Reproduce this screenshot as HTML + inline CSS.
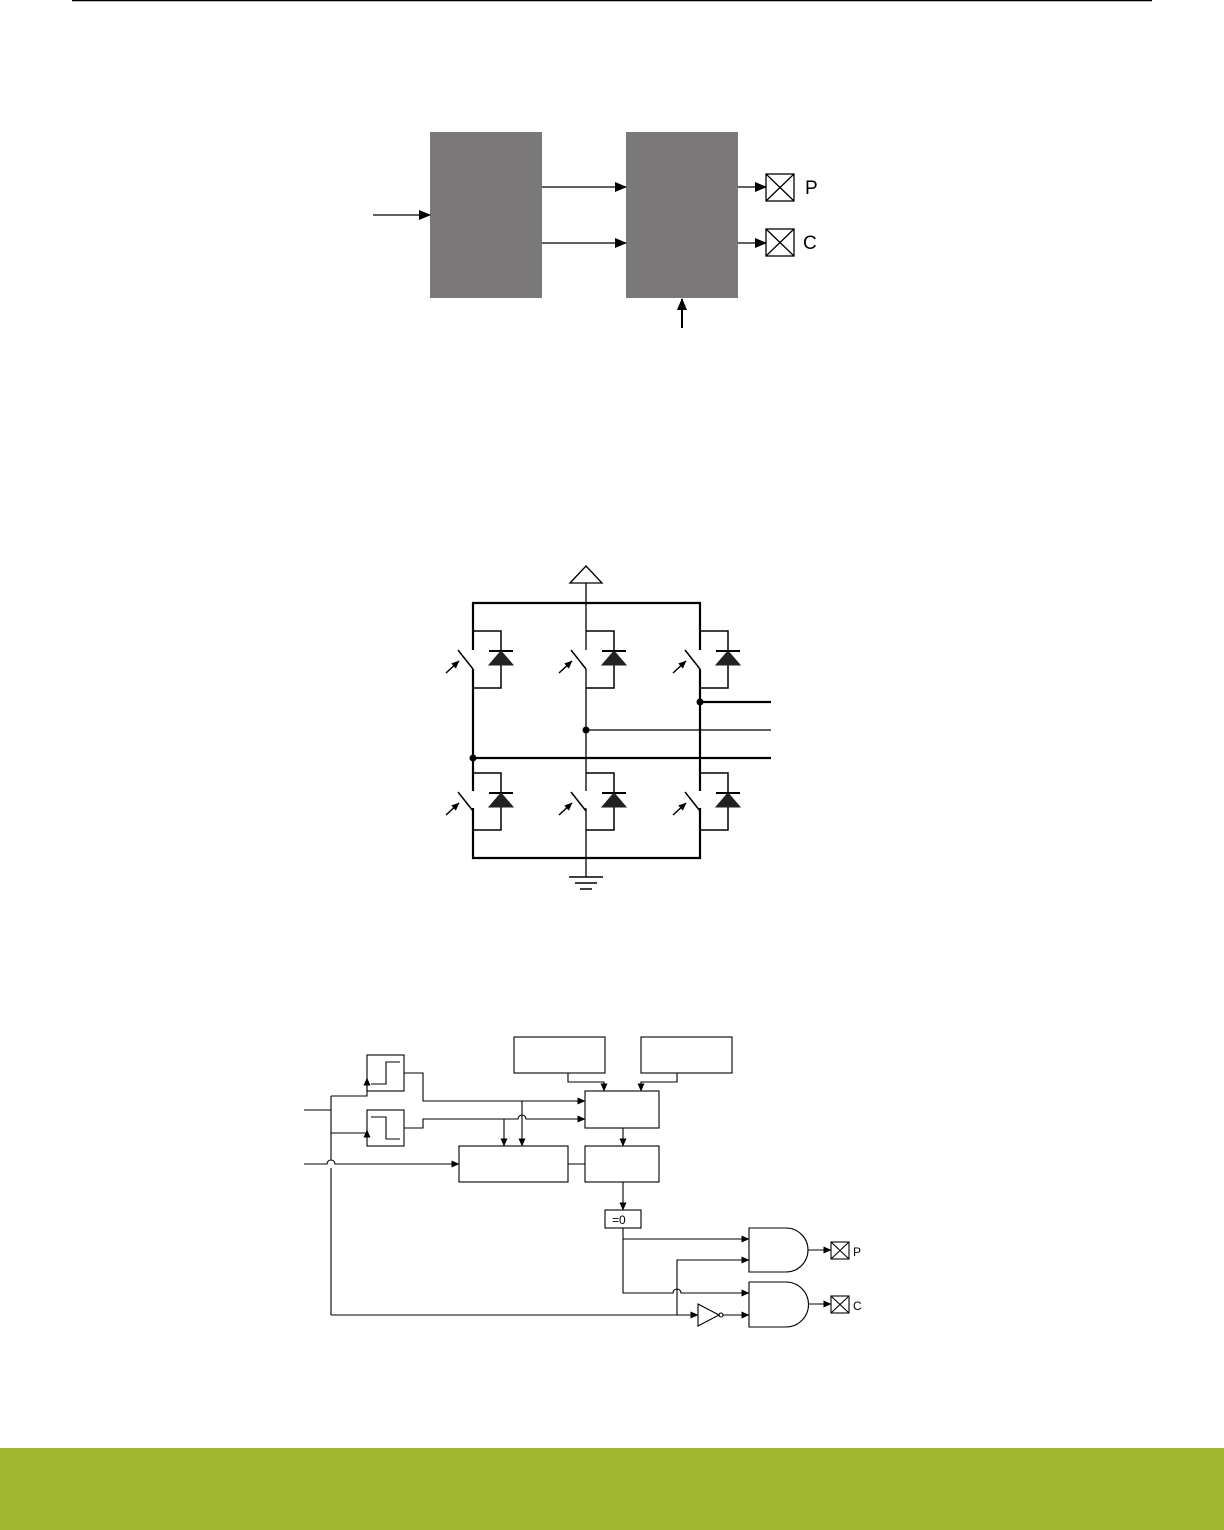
<!DOCTYPE html>
<html><head><meta charset="utf-8"><style>
html,body{margin:0;padding:0;background:#fff}
svg{display:block}
</style></head><body>
<svg width="1224" height="1530" viewBox="0 0 1224 1530" xmlns="http://www.w3.org/2000/svg" font-family="Liberation Sans, sans-serif">
<defs>
<marker id="a" markerWidth="12" markerHeight="10" refX="11" refY="5" orient="auto" markerUnits="userSpaceOnUse"><path d="M0,0 L12,5 L0,10 Z" fill="#000"/></marker>
<marker id="s" markerWidth="8" markerHeight="7" refX="7.5" refY="3.5" orient="auto" markerUnits="userSpaceOnUse"><path d="M0,0 L8,3.5 L0,7 Z" fill="#000"/></marker>
<g id="cell" fill="none" stroke="#000">
<path d="M0,0 H28 V20 M28,34 V57 H0" stroke-width="1.5"/>
<line x1="16" y1="20" x2="40" y2="20" stroke-width="2"/>
<path d="M16,34 L40,34 L28,20 Z" fill="#222" stroke="#222" stroke-width="1"/>
<line x1="-15" y1="19" x2="0" y2="38" stroke-width="1.5"/>
<line x1="-27" y1="42" x2="-14" y2="30" stroke-width="1.5" marker-end="url(#s)"/>
</g>
</defs>
<line x1="72" y1="0.5" x2="1152" y2="0.5" stroke="#000" stroke-width="1.5"/>

<!-- top diagram -->
<rect x="430" y="132" width="112" height="166" fill="#7a7879"/>
<rect x="626" y="132" width="112" height="166" fill="#7a7879"/>
<g stroke="#000" stroke-width="1.3" fill="none">
<line x1="373" y1="215" x2="430" y2="215" marker-end="url(#a)"/>
<line x1="542" y1="187" x2="626" y2="187" marker-end="url(#a)"/>
<line x1="542" y1="243" x2="626" y2="243" marker-end="url(#a)"/>
<line x1="738" y1="187" x2="766" y2="187" marker-end="url(#a)"/>
<line x1="738" y1="243" x2="766" y2="243" marker-end="url(#a)"/>
<line x1="682" y1="328" x2="682" y2="299" stroke-width="2" marker-end="url(#a)"/>
<rect x="766" y="174" width="28" height="27"/><path d="M766,174 L794,201 M794,174 L766,201"/>
<rect x="766" y="229" width="28" height="27"/><path d="M766,229 L794,256 M794,229 L766,256"/>
</g>
<text x="805" y="194" font-size="19">P</text>
<text x="803" y="249" font-size="19">C</text>

<!-- inverter -->
<g stroke="#000" fill="none">
<path d="M570,583 L586,566 L602,583 Z" stroke-width="1.3" fill="#fff"/>
<path d="M473,650 V603 H700 V650" stroke-width="2.2"/>
<path d="M473,669 V791 M473,808 V858 H700 V808 M700,791 V669" stroke-width="2.2"/>
<path d="M586,583 V650 M586,669 V791 M586,808 V877" stroke-width="1.3"/>
<line x1="700" y1="702" x2="771" y2="702" stroke-width="2.2"/>
<line x1="586" y1="730" x2="771" y2="730" stroke-width="1.3"/>
<line x1="473" y1="758" x2="771" y2="758" stroke-width="2.2"/>
<line x1="569" y1="877" x2="603" y2="877" stroke-width="1.5"/>
<line x1="575" y1="883" x2="597" y2="883" stroke-width="1.5"/>
<line x1="580" y1="889" x2="592" y2="889" stroke-width="1.5"/>
</g>
<circle cx="700" cy="702" r="3.5"/><circle cx="586" cy="730" r="3.5"/><circle cx="473" cy="758" r="3.5"/>
<use href="#cell" x="473" y="631"/><use href="#cell" x="586" y="631"/><use href="#cell" x="700" y="631"/>
<use href="#cell" x="473" y="773"/><use href="#cell" x="586" y="773"/><use href="#cell" x="700" y="773"/>

<!-- logic -->
<g stroke="#000" stroke-width="1.1" fill="none">
<rect x="514" y="1037" width="91" height="36"/>
<rect x="641" y="1037" width="91" height="36"/>
<rect x="585" y="1091" width="74" height="37"/>
<rect x="585" y="1146" width="74" height="36"/>
<rect x="459" y="1146" width="109" height="36"/>
<rect x="605" y="1210" width="36" height="18"/>
<rect x="367" y="1055" width="37" height="36"/>
<rect x="367" y="1110" width="37" height="36"/>
<path d="M371,1084 H386 V1062 H400"/>
<path d="M371,1117 H386 V1139 H400"/>
<path d="M568,1073 V1082 H604 V1091" marker-end="url(#s)"/>
<path d="M677,1073 V1082 H641 V1091" marker-end="url(#s)"/>
<path d="M304,1110 H331 M331,1096 V1160 M331,1168 V1315"/>
<path d="M331,1096 H367 V1078" marker-end="url(#s)"/>
<path d="M331,1133 H367 V1130" />
<path d="M367,1138 V1130" marker-end="url(#s)"/>
<path d="M404,1073 H423 V1101 H585" marker-end="url(#s)"/>
<path d="M404,1128 H423 V1119 H518 A4,4 0 0 1 526,1119 H585" marker-end="url(#s)"/>
<path d="M522,1101 V1146" marker-end="url(#s)"/>
<path d="M504,1119 V1146" marker-end="url(#s)"/>
<path d="M304,1164 H327 A4,4 0 0 1 335,1164 H459" marker-end="url(#s)"/>
<path d="M568,1164 H585"/>
<path d="M623,1128 V1146" marker-end="url(#s)"/>
<path d="M623,1182 V1210" marker-end="url(#s)"/>
<path d="M623,1228 V1293 H673 A4,4 0 0 1 681,1293 H749" marker-end="url(#s)"/>
<path d="M623,1239 H749" marker-end="url(#s)"/>
<path d="M331,1315 H698" marker-end="url(#s)"/>
<path d="M677,1315 V1260 H749" marker-end="url(#s)"/>
<path d="M698,1304 L719,1315 L698,1326 Z"/>
<circle cx="721" cy="1315" r="2"/>
<path d="M723,1315 H749" marker-end="url(#s)"/>
<path d="M749,1228 H786 A22,22 0 0 1 786,1272 H749 Z"/>
<path d="M749,1282 H786 A22.5,22.5 0 0 1 786,1327 H749 Z"/>
<path d="M808,1250 H831" marker-end="url(#s)"/>
<path d="M808,1304 H831" marker-end="url(#s)"/>
<rect x="831" y="1242" width="18" height="17"/><path d="M831,1242 L849,1259 M849,1242 L831,1259"/>
<rect x="831" y="1296" width="18" height="17"/><path d="M831,1296 L849,1313 M849,1296 L831,1313"/>
</g>
<text x="612" y="1224" font-size="12">=0</text>
<text x="853" y="1256" font-size="12">P</text>
<text x="853" y="1310" font-size="12">C</text>

<rect x="0" y="1448" width="1224" height="82" fill="#a2b830"/>
</svg>
</body></html>
